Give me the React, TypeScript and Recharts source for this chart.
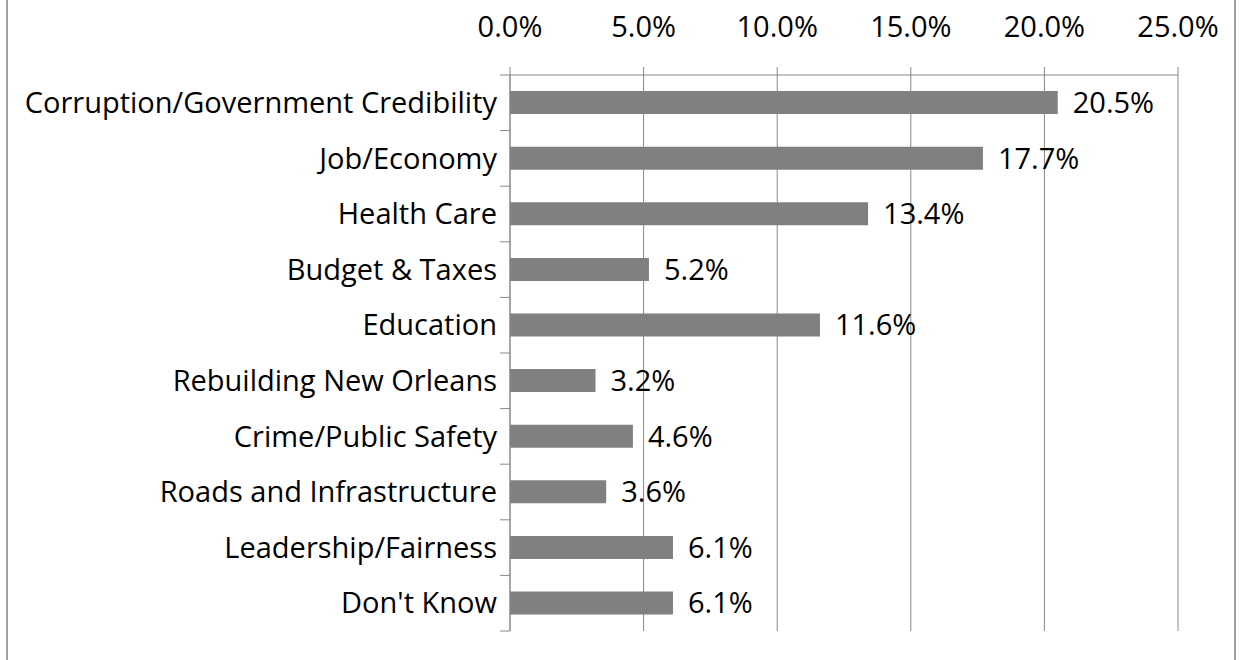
import { Bar, BarChart, CartesianGrid, LabelList, XAxis, YAxis } from "recharts";

const categories = [
  "Corruption/Government Credibility",
  "Job/Economy",
  "Health Care",
  "Budget & Taxes",
  "Education",
  "Rebuilding New Orleans",
  "Crime/Public Safety",
  "Roads and Infrastructure",
  "Leadership/Fairness",
  "Don't Know",
];
const shares = [0.205, 0.177, 0.134, 0.052, 0.116, 0.032, 0.046, 0.036, 0.061, 0.061];
const xTicks = [0, 0.05, 0.1, 0.15, 0.2, 0.25];

const data = categories.map((name, i) => ({ name, value: shares[i] }));

const W = 1241;
const H = 660;
const M = { top: 0, right: 63, left: 0, bottom: 29 };
const X_AXIS_H = 75;
const Y_AXIS_W = 510;
const BAND = (H - M.top - M.bottom - X_AXIS_H) / categories.length;

const FONT = "'Open Sans', sans-serif";
const GRID = "#888888";
const FS = 29;
const pct = (v: number) => `${(v * 100).toFixed(1)}%`;

// category label plus the Excel-style tick marks sitting between categories
function CategoryTick(props: any) {
  const { x, y, payload, index, visibleTicksCount } = props;
  const axisX = x + 13;
  const last = index === visibleTicksCount - 1;
  return (
    <g>
      <line x1={axisX - 10} x2={axisX} y1={y - BAND / 2} y2={y - BAND / 2} stroke={GRID} />
      {last && <line x1={axisX - 10} x2={axisX} y1={y + BAND / 2} y2={y + BAND / 2} stroke={GRID} />}
      <text x={x} y={y} dy="0.355em" textAnchor="end" fill="#000" fontSize={FS} fontFamily={FONT}>
        {payload.value}
      </text>
    </g>
  );
}

export default function App() {
  return (
    <div style={{ position: "absolute", left: 0, top: 0, width: W, height: H, background: "#fff" }}>
      <div
        style={{
          position: "absolute",
          left: 6,
          top: 0,
          width: 1230,
          height: H,
          boxSizing: "border-box",
          borderLeft: "2px solid #a0a0a0",
          borderRight: "2px solid #a0a0a0",
        }}
      />
      <div style={{ position: "absolute", left: 0, top: 0 }}>
        <BarChart
          width={W}
          height={H}
          data={data}
          layout="vertical"
          margin={M}
          barCategoryGap="29%"
          style={{ fontFamily: FONT }}
        >
          <CartesianGrid horizontal={false} stroke={GRID} />
          <XAxis
            type="number"
            orientation="top"
            domain={[0, 0.25]}
            ticks={xTicks}
            tickFormatter={pct}
            height={X_AXIS_H}
            tickSize={8}
            tickMargin={30}
            axisLine={{ stroke: GRID }}
            tickLine={{ stroke: GRID }}
            tick={{ fill: "#000", fontSize: FS, fontFamily: FONT }}
          />
          <YAxis
            type="category"
            dataKey="name"
            width={Y_AXIS_W}
            tickLine={false}
            axisLine={{ stroke: GRID }}
            tickSize={6}
            tickMargin={7}
            interval={0}
            tick={<CategoryTick />}
          />
          <Bar dataKey="value" fill="#808080" isAnimationActive={false}>
            <LabelList
              dataKey="value"
              position="right"
              offset={15}
              formatter={(v: number) => pct(v)}
              style={{ fill: "#000", fontSize: FS, fontFamily: FONT }}
            />
          </Bar>
        </BarChart>
      </div>
    </div>
  );
}
